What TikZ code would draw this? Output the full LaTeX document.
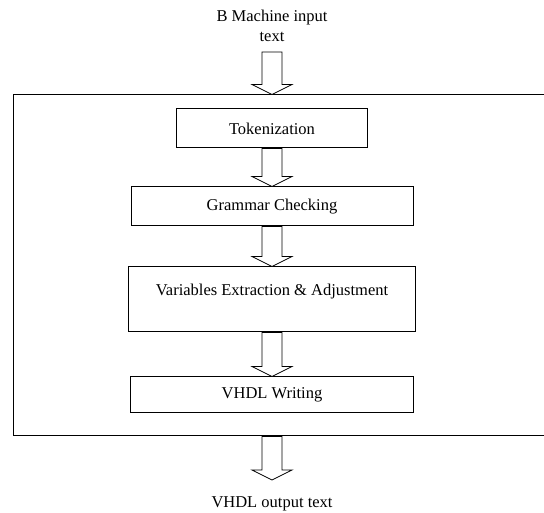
\documentclass[tikz,border=0pt]{standalone}
\usepackage{fontspec}
\setmainfont{Liberation Serif}
\usetikzlibrary{calc}

\begin{document}
\begin{tikzpicture}[x=1pt, y=1pt, every node/.style={font=\fontsize{16.5}{20}\selectfont},
		b/.style={rectangle, draw, line width=1pt, align=center, inner sep=0pt},
		blockarrow/.style={draw, line width=0.8pt, fill=white, to path={let \p1=(\tikztostart), \p2=(\tikztotarget) in (\x1-10pt,\y1) -- (\x1-10pt,\y2+10pt) -- (\x1-20pt,\y2+10pt) -- (\x1,\y2) -- (\x1+20pt,\y2+10pt) -- (\x1+10pt,\y2+10pt) -- (\x1+10pt,\y1) -- cycle}}]
			\useasboundingbox (0,0) rectangle (544,513);

			\node[align=center, inner xsep=1pt, inner ysep=10pt] (in) at (272, 487) {B Machine input\\text};
			\node[b, minimum width=547, minimum height=341] (frame) at (286.5, 247.5) {};
			\node[b, minimum width=191, minimum height=39] (tok) at (272, 384.5) {Tokenization};
			\node[b, minimum width=282, minimum height=39] (gram) at (272, 306.5) {Grammar Checking};
			\node[b, minimum width=287, minimum height=65] (var) at (272, 213.5) {Variables Extraction \& Adjustment\\ \mbox{}};
			\node[b, minimum width=283, minimum height=36] (vhdl) at (272, 118) {VHDL Writing};
			\node (out) at (272, 9) {VHDL output text};
			\coordinate (outtip) at (272, 33);

			\draw[blockarrow] (in.south) to (in.south |- frame.north);
			\draw[blockarrow] (tok.south) to (gram.north);
			\draw[blockarrow] (gram.south) to (var.north);
			\draw[blockarrow] (var.south) to (vhdl.north);
			\draw[blockarrow] (vhdl.south |- frame.south) to (outtip);
		\end{tikzpicture}
\end{document}
